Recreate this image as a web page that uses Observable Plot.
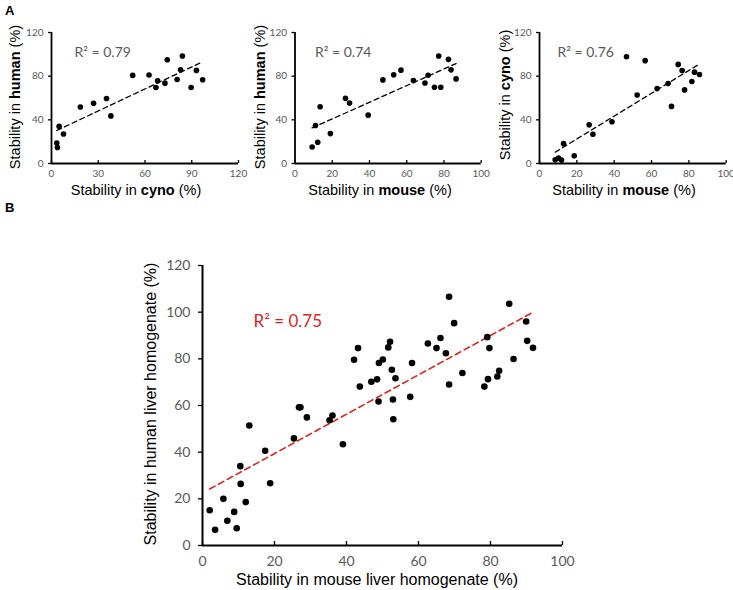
<!DOCTYPE html>
<html><head><meta charset="utf-8">
<script src="https://cdn.jsdelivr.net/npm/d3@7"></script>
<script src="https://cdn.jsdelivr.net/npm/@observablehq/plot@0.6"></script>
<style>
body{margin:0;background:#fff;}
#wrap{position:relative;width:733px;height:590px;overflow:hidden;font-family:"Liberation Sans",Arial,sans-serif;background:#fff;}
#wrap svg{position:absolute;}
.t{position:absolute;white-space:nowrap;color:#000;line-height:1;}
.yt{transform:translate(-50%,-50%) rotate(-90deg);}
.xt{transform:translate(-50%,-50%);}
.lab{position:absolute;font-weight:bold;font-size:13px;font-family:"Liberation Sans",Arial,sans-serif;}
</style></head><body><div id="wrap"></div>
<script>
// ---- Panel A1: human vs cyno ----
const a1Cyno  = [3.4, 3.8, 4.9, 7.7, 18.5, 27.0, 35.3, 38.1, 52.1, 62.6, 67.0, 68.1, 72.8, 74.3, 80.6, 82.8, 84.0, 89.6, 93.0, 97.0];
const a1Human = [18.7, 14.7, 34.0, 27.0, 51.8, 55.2, 59.5, 43.6, 80.7, 81.0, 69.6, 75.8, 73.6, 95.1, 77.0, 85.9, 98.5, 69.6, 85.3, 76.7];
// ---- Panel A2: human vs mouse ----
const a2Mouse = [9.2, 11.0, 12.2, 13.5, 19.0, 27.1, 29.3, 39.3, 47.2, 53.0, 56.9, 63.6, 69.8, 71.5, 74.9, 77.2, 78.3, 82.4, 83.8, 86.5];
const a2Human = [15.1, 34.8, 19.4, 52.0, 27.4, 59.7, 55.4, 44.3, 76.6, 81.2, 85.5, 76.0, 73.8, 80.9, 69.8, 98.5, 69.8, 95.4, 85.8, 77.5];
// ---- Panel A3: cyno vs mouse ----
const a3Mouse = [8.4, 10.2, 11.8, 12.9, 18.6, 26.6, 28.6, 38.8, 46.6, 52.3, 56.6, 63.0, 68.9, 70.7, 74.3, 76.4, 77.7, 81.6, 83.0, 85.7];
const a3Cyno  = [3.4, 4.9, 3.1, 18.2, 7.1, 35.4, 26.8, 38.2, 97.8, 62.8, 94.2, 68.6, 73.2, 52.3, 90.8, 85.2, 67.4, 75.1, 83.7, 81.5];
// ---- Panel B: human vs mouse liver homogenate ----
const bMouse = [2.0, 3.5, 5.8, 6.9, 8.8, 9.5, 10.5, 10.6, 12.0, 13.0, 17.4, 18.8, 25.4, 26.8, 27.2, 29.0, 35.3, 36.1, 39.0, 42.1,
                43.2, 43.7, 46.9, 48.5, 48.9, 49.0, 50.1, 51.6, 52.1, 52.6, 53.6, 52.9, 53.0, 57.7, 58.2, 62.6, 65.0, 66.1, 67.6, 68.5,
                68.5, 69.9, 72.2, 78.3, 79.3, 79.1, 79.7, 81.9, 82.4, 85.2, 86.4, 89.9, 90.2, 91.8];
const bHuman = [15.1, 6.7, 20.0, 10.6, 14.4, 7.4, 34.0, 26.4, 18.6, 51.4, 40.6, 26.7, 45.9, 59.2, 59.2, 54.9, 53.7, 55.7, 43.4, 79.6,
                84.6, 68.1, 70.2, 71.2, 61.7, 78.2, 79.7, 84.9, 87.3, 75.3, 71.7, 62.6, 54.1, 63.7, 78.2, 86.6, 84.6, 88.9, 82.4, 106.6,
                69.0, 95.3, 73.9, 68.1, 71.3, 89.3, 84.6, 72.4, 74.9, 103.6, 79.9, 96.0, 87.7, 84.7];
// ---- tick labels & annotations ----
const yTicks = [0, 40, 80, 120];
const xTicksCyno = [0, 30, 60, 90, 120];
const xTicksMouse = [0, 20, 40, 60, 80, 100];
const bYTicks = [0, 20, 40, 60, 80, 100, 120];
const bXTicks = [0, 20, 40, 60, 80, 100];
const r2Labels = ["R² = 0.79", "R² = 0.74", "R² = 0.76", "R² = 0.75"];

const wrap = document.getElementById("wrap");

function panel(o) {
  const data = o.xs.map((x, i) => ({x, y: o.ys[i]}));
  const svg = Plot.plot({
    width: o.width, height: o.height,
    marginLeft: o.ml, marginTop: o.mt, marginRight: o.mr, marginBottom: o.mb,
    x: {domain: o.xDomain},
    y: {domain: o.yDomain},
    style: {fontFamily: "Lato, sans-serif", fontSize: o.fs + "px", background: "transparent", overflow: "visible"},
    marks: [
      Plot.axisX(o.xTicks, {tickSize: -o.tick, tickPadding: o.xPad, stroke: "#000", fill: "#595959", label: null, strokeWidth: 1.3}),
      Plot.axisY(o.yTicks, {tickSize: o.tick, tickPadding: o.yPad, stroke: "#000", fill: "#595959", label: null, strokeWidth: 1.3}),
      Plot.ruleY([o.yDomain[0]], {stroke: "#000", strokeWidth: o.axisW}),
      Plot.ruleX([o.xDomain[0]], {stroke: "#000", strokeWidth: o.axisW}),
      Plot.linearRegressionY(data, {x: "x", y: "y", ci: 0, stroke: o.lineColor, strokeWidth: o.lineW, strokeDasharray: o.dash}),
      Plot.dot(data, {x: "x", y: "y", r: o.r, fill: "#000", stroke: null}),
      Plot.text([o.r2], {frameAnchor: "top-left", dx: o.rdx, dy: o.rdy, textAnchor: "start", lineAnchor: "middle",
                         fill: o.rColor, fontSize: o.rfs, fontFamily: "Lato, sans-serif"})
    ]
  });
  svg.style.left = o.left + "px";
  svg.style.top = o.top + "px";
  wrap.appendChild(svg);
}

function addText(html, x, y, cls, fs) {
  const d = document.createElement("div");
  d.className = "t " + cls;
  d.style.left = x + "px";
  d.style.top = y + "px";
  d.style.fontSize = fs + "px";
  d.innerHTML = html;
  wrap.appendChild(d);
}

const aCommon = {height: 200, top: 0, mt: 32, mb: 37, yDomain: [0, 120], yTicks, fs: 10, tick: 3, xPad: 9, yPad: 5,
  axisW: 1.8, lineColor: "#000", lineW: 1.3, dash: "5,3.5", r: 2.8, rColor: "#595959", rfs: 14, rdy: 20};

panel({...aCommon, xs: a1Cyno, ys: a1Human, left: 0, width: 245, ml: 51, mr: 7, xDomain: [0, 120], xTicks: xTicksCyno, r2: r2Labels[0], rdx: 23});
panel({...aCommon, xs: a2Mouse, ys: a2Human, left: 240, width: 250, ml: 54.5, mr: 9.3, xDomain: [0, 100], xTicks: xTicksMouse, r2: r2Labels[1], rdx: 20});
panel({...aCommon, xs: a3Mouse, ys: a3Cyno, left: 485, width: 248, ml: 54, mr: 7.3, xDomain: [0, 100], xTicks: xTicksMouse, r2: r2Labels[2], rdx: 18});

panel({xs: bMouse, ys: bHuman, left: 0, top: 230, width: 733, height: 360, ml: 202, mr: 171, mt: 35, mb: 45,
  xDomain: [0, 100], yDomain: [0, 120], xTicks: bXTicks, yTicks: bYTicks, fs: 14, tick: 4, xPad: 15, yPad: 8,
  axisW: 2, lineColor: "#e0221f", lineW: 1.6, dash: "6,4", r: 3.3, r2: r2Labels[3], rdx: 51, rdy: 56, rColor: "#e0221f", rfs: 17});

// axis titles
addText("Stability in <b>cyno</b> (%)", 136, 190, "xt", 14.5);
addText("Stability in <b>mouse</b> (%)", 380, 190, "xt", 14.5);
addText("Stability in <b>mouse</b> (%)", 624, 190, "xt", 14.5);
addText("Stability in <b>human</b> (%)", 15, 97, "yt", 14.5);
addText("Stability in <b>human</b> (%)", 260, 97, "yt", 14.5);
addText("Stability in <b>cyno</b> (%)", 505, 95, "yt", 14.5);
addText("Stability in mouse liver homogenate (%)", 377, 580, "xt", 16);
addText("Stability in human liver homogenate (%)", 151, 404, "yt", 16);

// panel letters
const la = document.createElement("div"); la.className = "lab"; la.style.left = "5px"; la.style.top = "3px"; la.textContent = "A"; wrap.appendChild(la);
const lb = document.createElement("div"); lb.className = "lab"; lb.style.left = "5px"; lb.style.top = "200px"; lb.textContent = "B"; wrap.appendChild(lb);
</script></body></html>
